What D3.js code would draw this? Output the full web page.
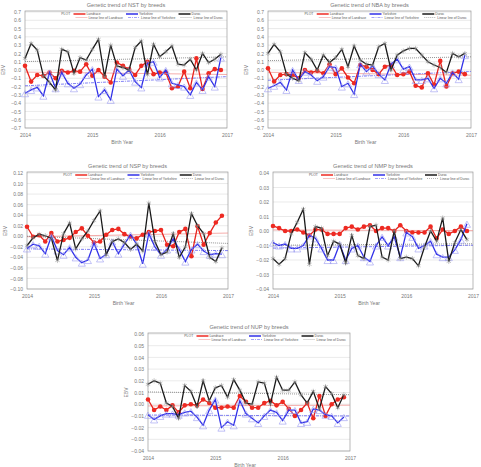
<!DOCTYPE html>
<html>
<head>
<meta charset="utf-8">
<script src="https://cdn.jsdelivr.net/npm/d3@7"></script>
<style>
  html, body { margin: 0; padding: 0; background: #fff; }
  svg { display: block; font-family: "DejaVu Sans", Arial, sans-serif; }
</style>
</head>
<body>
<svg id="chart" width="481" height="467"></svg>
<script>
// Genetic trend (EBV) of five litter traits by breed, 33 birth periods 2014-2016.
const years = [2014, 2015, 2016, 2017];
const breeds = ['Landrace', 'Yorkshire', 'Duroc'];

// NST
const nstLandrace = [0.05, -0.14, -0.06, -0.07, -0.03, -0.10, -0.01, -0.03, -0.01, -0.02, 0.07, -0.07, 0.00, -0.08, -0.15, 0.09, 0.05, 0.01, -0.06, 0.05, 0.10, -0.05, -0.03, -0.03, -0.22, -0.20, -0.02, -0.22, 0.14, -0.23, -0.04, 0.01, 0.00];
const nstYorkshire = [-0.28, -0.24, -0.21, -0.31, -0.03, -0.22, -0.03, -0.16, -0.22, -0.17, -0.06, 0.01, -0.32, -0.24, -0.36, 0.01, -0.07, 0.00, -0.14, -0.21, 0.08, 0.10, -0.09, 0.00, -0.16, -0.18, -0.20, -0.30, -0.15, -0.24, -0.08, -0.20, 0.15];
const nstDuroc = [0.14, 0.32, 0.24, -0.07, -0.15, -0.24, 0.25, 0.22, -0.04, 0.15, 0.12, 0.25, 0.37, -0.08, 0.30, 0.05, 0.03, 0.00, 0.27, 0.35, -0.06, 0.31, 0.16, 0.22, 0.29, 0.07, 0.06, 0.13, 0.00, 0.20, 0.09, 0.13, 0.19];

// NBA
const nbaLandrace = [0.02, -0.14, -0.06, -0.05, -0.06, -0.10, 0.00, -0.03, -0.01, -0.04, 0.07, -0.05, 0.02, -0.09, -0.16, 0.06, 0.04, 0.00, -0.05, 0.04, 0.06, -0.06, -0.05, -0.02, -0.19, -0.21, -0.04, -0.18, 0.11, -0.20, -0.04, -0.02, -0.05];
const nbaYorkshire = [-0.22, -0.19, -0.15, -0.24, 0.00, -0.12, -0.02, -0.06, -0.13, -0.08, 0.04, 0.03, -0.20, -0.16, -0.29, 0.07, -0.02, 0.05, -0.05, -0.12, 0.07, 0.13, 0.01, 0.04, -0.12, -0.12, -0.10, -0.22, -0.10, -0.16, -0.03, -0.11, 0.18];
const nbaDuroc = [0.20, 0.31, 0.22, -0.05, -0.10, -0.13, 0.21, 0.13, 0.00, 0.18, 0.09, 0.15, 0.25, 0.04, 0.29, 0.12, 0.07, 0.06, 0.28, 0.32, 0.00, 0.18, 0.23, 0.26, 0.26, 0.18, 0.10, 0.06, 0.03, -0.03, 0.20, 0.16, 0.20];

// NSP
const nspLandrace = [0.018, -0.001, 0.002, -0.010, 0.006, -0.010, -0.007, -0.003, 0.008, 0.015, 0.001, -0.012, -0.010, 0.003, 0.012, 0.014, 0.004, -0.001, -0.004, 0.003, 0.008, 0.010, 0.012, -0.016, -0.019, 0.008, 0.014, -0.038, 0.019, -0.016, 0.006, 0.026, 0.039];
const nspYorkshire = [-0.023, -0.015, -0.018, -0.033, 0.000, -0.027, -0.035, -0.021, -0.040, -0.050, -0.045, -0.013, -0.042, -0.034, -0.010, -0.033, -0.015, 0.003, -0.015, -0.052, 0.005, -0.020, -0.035, -0.025, -0.005, -0.025, -0.048, -0.025, -0.015, -0.028, -0.035, -0.033, -0.034];
const nspDuroc = [-0.018, -0.003, 0.004, 0.001, -0.004, -0.046, 0.005, 0.025, -0.024, -0.005, 0.010, 0.030, 0.048, -0.035, -0.010, -0.005, -0.012, -0.025, -0.015, -0.028, 0.063, -0.010, -0.035, -0.030, 0.005, -0.040, -0.020, 0.043, 0.020, 0.005, -0.040, -0.048, -0.022];

// NMP
const nmpLandrace = [0.0035, 0.002, 0.000, 0.000, 0.001, -0.001, -0.003, 0.001, 0.001, -0.002, -0.002, -0.002, 0.002, 0.003, 0.001, 0.003, 0.004, 0.000, 0.002, 0.002, 0.000, 0.004, 0.000, -0.001, -0.001, -0.001, 0.003, -0.005, 0.001, -0.002, 0.000, 0.003, 0.000];
const nmpYorkshire = [-0.008, -0.010, -0.009, -0.012, -0.012, -0.010, -0.003, -0.005, -0.012, -0.020, -0.020, -0.009, -0.020, -0.012, -0.010, -0.018, -0.021, -0.010, -0.004, -0.010, -0.004, -0.018, -0.001, -0.004, -0.012, -0.010, -0.007, -0.016, -0.018, -0.018, -0.013, -0.006, 0.005];
const nmpDuroc = [-0.019, -0.023, -0.019, -0.002, 0.006, 0.015, -0.023, 0.003, 0.002, -0.017, -0.007, -0.009, -0.022, -0.003, -0.017, -0.019, 0.003, 0.004, -0.018, -0.020, 0.000, -0.019, -0.018, -0.019, -0.024, -0.011, 0.000, -0.007, 0.009, -0.021, -0.008, 0.001, -0.006];

// NUP
const nupLandrace = [0.004, -0.005, -0.002, -0.005, -0.001, -0.007, -0.001, 0.000, -0.001, 0.004, 0.001, -0.003, -0.003, -0.002, -0.003, 0.007, 0.002, -0.003, -0.003, 0.001, 0.003, -0.001, 0.002, -0.004, -0.010, -0.005, 0.001, -0.012, 0.007, -0.010, 0.000, 0.004, 0.006];
const nupYorkshire = [-0.009, -0.013, -0.010, -0.008, -0.008, -0.009, -0.007, -0.006, -0.011, -0.018, -0.005, 0.004, -0.020, -0.015, -0.018, 0.003, -0.008, -0.012, -0.016, -0.010, -0.005, -0.007, -0.014, -0.005, -0.005, -0.016, -0.015, -0.004, -0.005, -0.009, -0.010, -0.016, -0.011];
const nupDuroc = [0.017, 0.020, 0.018, 0.001, -0.002, -0.012, 0.016, 0.011, -0.002, 0.020, 0.003, 0.014, 0.016, 0.006, 0.021, 0.012, 0.001, 0.000, 0.019, 0.018, 0.000, 0.023, 0.012, 0.012, 0.019, 0.008, 0.001, 0.011, -0.004, 0.015, 0.009, -0.003, 0.008];

const panels = [
  {trait: 'NST', series: [nstLandrace, nstYorkshire, nstDuroc], yDomain: [-0.7, 0.7], step: 0.1, fmt: '.1f', box: {l: 25, r: 227, t: 12, b: 128}},
  {trait: 'NBA', series: [nbaLandrace, nbaYorkshire, nbaDuroc], yDomain: [-0.7, 0.7], step: 0.1, fmt: '.1f', box: {l: 268, r: 471, t: 12, b: 128}},
  {trait: 'NSP', series: [nspLandrace, nspYorkshire, nspDuroc], yDomain: [-0.10, 0.12], step: 0.02, fmt: '.2f', box: {l: 27, r: 228, t: 173, b: 289}},
  {trait: 'NMP', series: [nmpLandrace, nmpYorkshire, nmpDuroc], yDomain: [-0.04, 0.04], step: 0.01, fmt: '.2f', box: {l: 273, r: 473, t: 173, b: 289}},
  {trait: 'NUP', series: [nupLandrace, nupYorkshire, nupDuroc], yDomain: [-0.04, 0.06], step: 0.01, fmt: '.2f', box: {l: 148, r: 350, t: 334, b: 451}}
];

const lineColor = {Landrace: '#e8221c', Yorkshire: '#3030e8', Duroc: '#1a1a1a'};
const markColor = {Landrace: '#ee2a22', Yorkshire: '#9a9af0', Duroc: '#8a8a8a'};
const trendStyle = {
  Landrace: {stroke: '#f08a86', dash: null},
  Yorkshire: {stroke: '#4a4af0', dash: '3,1,1,1'},
  Duroc: {stroke: '#666', dash: '1,1'}
};
const textColor = '#777';

const svg = d3.select('#chart');
const nPeriods = 33;

function fitLine(values){
  const xs = values.map((v, i) => i);
  const mx = d3.mean(xs), my = d3.mean(values);
  const sxy = d3.sum(xs, (x, i) => (x - mx) * (values[i] - my));
  const sxx = d3.sum(xs, x => (x - mx) * (x - mx));
  const slope = sxy / sxx;
  return x => my + slope * (x - mx);
}

panels.forEach(p => {
  const {l, r, t, b} = p.box;
  const g = svg.append('g');

  const x = d3.scaleLinear().domain([0, nPeriods]).range([l, r]);
  const y = d3.scaleLinear().domain(p.yDomain).range([b, t]);
  const ticks = d3.range(Math.round((p.yDomain[1] - p.yDomain[0]) / p.step) + 1)
    .map(i => +(p.yDomain[0] + i * p.step).toFixed(4));
  const fmt = d3.format(p.fmt);

  // Title
  g.append('text')
    .attr('x', (l + r) / 2).attr('y', t - 5)
    .attr('text-anchor', 'middle')
    .attr('font-size', 5.6).attr('fill', textColor)
    .attr('font-family', '"Liberation Sans", Arial, sans-serif')
    .text(`Genetic trend of  ${p.trait} by breeds`);

  // Horizontal grid
  g.append('g').selectAll('line').data(ticks).join('line')
    .attr('x1', l).attr('x2', r)
    .attr('y1', d => y(d)).attr('y2', d => y(d))
    .attr('stroke', '#dcdcdc').attr('stroke-width', 0.6);

  // Frame
  g.append('rect')
    .attr('x', l).attr('y', t - 1).attr('width', r - l).attr('height', b - t + 1)
    .attr('fill', 'none').attr('stroke', '#9a9a9a').attr('stroke-width', 0.7);

  // Y axis
  const yAxis = d3.axisLeft(y).tickValues(ticks).tickSize(0).tickPadding(4).tickFormat(d => fmt(d));
  const ya = g.append('g').attr('transform', `translate(${l},0)`).call(yAxis);
  ya.select('.domain').remove();
  ya.selectAll('text').attr('font-size', 5).attr('fill', textColor).attr('font-family', '"Liberation Sans", Arial, sans-serif');

  // X axis
  const xAxis = d3.axisBottom(x).tickValues(years.map((yr, i) => i * 11)).tickSize(0).tickPadding(5)
    .tickFormat((d, i) => years[i]);
  const xa = g.append('g').attr('transform', `translate(0,${b})`).call(xAxis);
  xa.select('.domain').remove();
  xa.selectAll('text').attr('font-size', 5).attr('fill', textColor).attr('font-family', '"Liberation Sans", Arial, sans-serif');

  g.append('text')
    .attr('x', (l + r) / 2 - 4).attr('y', b + 16)
    .attr('text-anchor', 'middle').attr('font-size', 5).attr('fill', textColor)
    .attr('font-family', '"Liberation Sans", Arial, sans-serif')
    .text('Birth Year');

  g.append('text')
    .attr('transform', `translate(${l - 20},${(t + b) / 2}) rotate(-90)`)
    .attr('text-anchor', 'middle').attr('font-size', 5).attr('fill', textColor)
    .attr('font-family', '"Liberation Sans", Arial, sans-serif')
    .text('EBV');

  // Trend lines
  breeds.forEach((breed, k) => {
    const f = fitLine(p.series[k]);
    g.append('line')
      .attr('x1', x(0)).attr('x2', x(nPeriods))
      .attr('y1', y(f(0))).attr('y2', y(f(nPeriods)))
      .attr('stroke', trendStyle[breed].stroke).attr('stroke-width', 0.7)
      .attr('stroke-dasharray', trendStyle[breed].dash);
  });

  const line = d3.line().x((d, i) => x(i)).y(d => y(d));

  breeds.forEach((breed, k) => {
    const values = p.series[k];
    const sg = g.append('g');
    sg.append('path').datum(values)
      .attr('d', line).attr('fill', 'none')
      .attr('stroke', lineColor[breed]).attr('stroke-width', 1.3);
    if(breed === 'Landrace'){
      sg.selectAll('circle').data(values).join('circle')
        .attr('cx', (d, i) => x(i)).attr('cy', d => y(d)).attr('r', 2.3)
        .attr('fill', markColor[breed]);
    } else if(breed === 'Yorkshire'){
      sg.selectAll('path.m').data(values).join('path').attr('class', 'm')
        .attr('transform', (d, i) => `translate(${x(i)},${y(d) + 1.5})`)
        .attr('d', d3.symbol(d3.symbolTriangle, 22))
        .attr('fill', 'none').attr('stroke', markColor[breed]).attr('stroke-width', 0.6);
    } else {
      sg.selectAll('path.m').data(values).join('path').attr('class', 'm')
        .attr('transform', (d, i) => `translate(${x(i)},${y(d)})`)
        .attr('d', d3.symbol(d3.symbolAsterisk, 18))
        .attr('fill', 'none').attr('stroke', markColor[breed]).attr('stroke-width', 0.5);
    }
  });

  // Legend inside the plot top
  const w = r - l;
  const lg = g.append('g').attr('font-size', 3.4).attr('fill', '#555')
    .attr('font-family', '"Liberation Sans", Arial, sans-serif');
  lg.append('text').attr('x', l + w * 0.18).attr('y', t + 3).text('PLOT');
  const cols = [0.24, 0.50, 0.76];
  breeds.forEach((breed, k) => {
    const x0 = l + w * cols[k];
    lg.append('line').attr('x1', x0).attr('x2', x0 + 12).attr('y1', t + 2).attr('y2', t + 2)
      .attr('stroke', breed === 'Landrace' ? markColor[breed] : lineColor[breed]).attr('stroke-width', 1.5);
    lg.append('text').attr('x', x0 + 13).attr('y', t + 3.2).text(breed);
    lg.append('line').attr('x1', x0 + 2).attr('x2', x0 + 14).attr('y1', t + 5.5).attr('y2', t + 5.5)
      .attr('stroke', trendStyle[breed].stroke).attr('stroke-width', 0.5)
      .attr('stroke-dasharray', trendStyle[breed].dash);
    lg.append('text').attr('x', x0 + 15).attr('y', t + 6.6).text(`Linear line of ${breed}`);
  });
});
</script>
</body>
</html>
